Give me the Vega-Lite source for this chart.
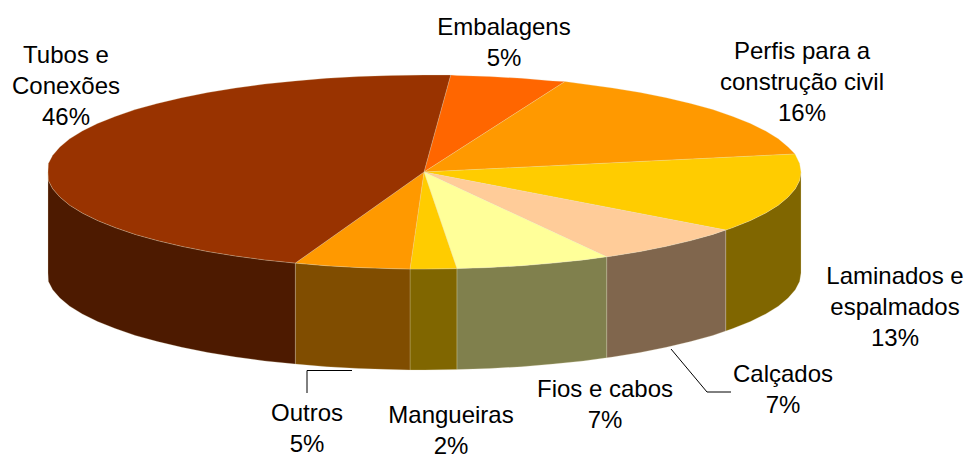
{"$schema":"https://vega.github.io/schema/vega-lite/v6.json","width":969,"height":454,"padding":0,"autosize":"none","background":"white","view":{"stroke":null},
"datasets":{
"faces":[
{"face":"Laminados lateral","n":1,"x":801,"y":172},{"face":"Laminados lateral","n":2,"x":799.6,"y":180.5},{"face":"Laminados lateral","n":3,"x":795.3,"y":188.8},{"face":"Laminados lateral","n":4,"x":788.1,"y":197.1},{"face":"Laminados lateral","n":5,"x":778.3,"y":205.2},{"face":"Laminados lateral","n":6,"x":765.7,"y":213},{"face":"Laminados lateral","n":7,"x":750.5,"y":220.5},{"face":"Laminados lateral","n":8,"x":732.8,"y":227.6},{"face":"Laminados lateral","n":9,"x":725.7,"y":230},{"face":"Laminados lateral","n":10,"x":725.7,"y":331},{"face":"Laminados lateral","n":11,"x":732.8,"y":328.6},{"face":"Laminados lateral","n":12,"x":750.5,"y":321.5},{"face":"Laminados lateral","n":13,"x":765.7,"y":314},{"face":"Laminados lateral","n":14,"x":778.3,"y":306.2},{"face":"Laminados lateral","n":15,"x":788.1,"y":298.1},{"face":"Laminados lateral","n":16,"x":795.3,"y":289.8},{"face":"Laminados lateral","n":17,"x":799.6,"y":281.5},{"face":"Laminados lateral","n":18,"x":801,"y":273},{"face":"Laminados lateral","n":19,"x":801,"y":172},
{"face":"Calçados lateral","n":1,"x":725.7,"y":230},{"face":"Calçados lateral","n":2,"x":712.8,"y":234.4},{"face":"Calçados lateral","n":3,"x":690.6,"y":240.6},{"face":"Calçados lateral","n":4,"x":666.3,"y":246.3},{"face":"Calçados lateral","n":5,"x":640.2,"y":251.5},{"face":"Calçados lateral","n":6,"x":612.5,"y":256},{"face":"Calçados lateral","n":7,"x":606.7,"y":256.8},{"face":"Calçados lateral","n":8,"x":606.7,"y":357.8},{"face":"Calçados lateral","n":9,"x":612.5,"y":357},{"face":"Calçados lateral","n":10,"x":640.2,"y":352.5},{"face":"Calçados lateral","n":11,"x":666.3,"y":347.3},{"face":"Calçados lateral","n":12,"x":690.6,"y":341.6},{"face":"Calçados lateral","n":13,"x":712.8,"y":335.4},{"face":"Calçados lateral","n":14,"x":725.7,"y":331},{"face":"Calçados lateral","n":15,"x":725.7,"y":230},
{"face":"Fios lateral","n":1,"x":606.7,"y":256.8},{"face":"Fios lateral","n":2,"x":583.3,"y":259.9},{"face":"Fios lateral","n":3,"x":552.9,"y":263.1},{"face":"Fios lateral","n":4,"x":521.6,"y":265.7},{"face":"Fios lateral","n":5,"x":489.4,"y":267.5},{"face":"Fios lateral","n":6,"x":456.9,"y":268.6},{"face":"Fios lateral","n":7,"x":456.9,"y":369.6},{"face":"Fios lateral","n":8,"x":489.4,"y":368.5},{"face":"Fios lateral","n":9,"x":521.6,"y":366.7},{"face":"Fios lateral","n":10,"x":552.9,"y":364.1},{"face":"Fios lateral","n":11,"x":583.3,"y":360.9},{"face":"Fios lateral","n":12,"x":606.7,"y":357.8},{"face":"Fios lateral","n":13,"x":606.7,"y":256.8},
{"face":"Mangueiras lateral","n":1,"x":456.9,"y":268.6},{"face":"Mangueiras lateral","n":2,"x":424,"y":269},{"face":"Mangueiras lateral","n":3,"x":410,"y":269},{"face":"Mangueiras lateral","n":4,"x":410,"y":370},{"face":"Mangueiras lateral","n":5,"x":424,"y":370},{"face":"Mangueiras lateral","n":6,"x":456.9,"y":369.6},{"face":"Mangueiras lateral","n":7,"x":456.9,"y":268.6},
{"face":"Outros lateral","n":1,"x":410,"y":269},{"face":"Outros lateral","n":2,"x":391.1,"y":268.6},{"face":"Outros lateral","n":3,"x":358.6,"y":267.5},{"face":"Outros lateral","n":4,"x":326.4,"y":265.7},{"face":"Outros lateral","n":5,"x":295.3,"y":263.1},{"face":"Outros lateral","n":6,"x":295.3,"y":364.1},{"face":"Outros lateral","n":7,"x":326.4,"y":366.7},{"face":"Outros lateral","n":8,"x":358.6,"y":368.5},{"face":"Outros lateral","n":9,"x":391.1,"y":369.6},{"face":"Outros lateral","n":10,"x":410,"y":370},{"face":"Outros lateral","n":11,"x":410,"y":269},
{"face":"Tubos lateral","n":1,"x":295.3,"y":263.1},{"face":"Tubos lateral","n":2,"x":264.7,"y":259.9},{"face":"Tubos lateral","n":3,"x":235.5,"y":256},{"face":"Tubos lateral","n":4,"x":207.8,"y":251.5},{"face":"Tubos lateral","n":5,"x":181.7,"y":246.3},{"face":"Tubos lateral","n":6,"x":157.4,"y":240.6},{"face":"Tubos lateral","n":7,"x":135.2,"y":234.4},{"face":"Tubos lateral","n":8,"x":115.2,"y":227.6},{"face":"Tubos lateral","n":9,"x":97.5,"y":220.5},{"face":"Tubos lateral","n":10,"x":82.3,"y":213},{"face":"Tubos lateral","n":11,"x":69.7,"y":205.2},{"face":"Tubos lateral","n":12,"x":59.9,"y":197.1},{"face":"Tubos lateral","n":13,"x":52.7,"y":188.8},{"face":"Tubos lateral","n":14,"x":48.4,"y":180.5},{"face":"Tubos lateral","n":15,"x":48,"y":172},{"face":"Tubos lateral","n":16,"x":48,"y":273},{"face":"Tubos lateral","n":17,"x":48.4,"y":281.5},{"face":"Tubos lateral","n":18,"x":52.7,"y":289.8},{"face":"Tubos lateral","n":19,"x":59.9,"y":298.1},{"face":"Tubos lateral","n":20,"x":69.7,"y":306.2},{"face":"Tubos lateral","n":21,"x":82.3,"y":314},{"face":"Tubos lateral","n":22,"x":97.5,"y":321.5},{"face":"Tubos lateral","n":23,"x":115.2,"y":328.6},{"face":"Tubos lateral","n":24,"x":135.2,"y":335.4},{"face":"Tubos lateral","n":25,"x":157.4,"y":341.6},{"face":"Tubos lateral","n":26,"x":181.7,"y":347.3},{"face":"Tubos lateral","n":27,"x":207.8,"y":352.5},{"face":"Tubos lateral","n":28,"x":235.5,"y":357},{"face":"Tubos lateral","n":29,"x":264.7,"y":360.9},{"face":"Tubos lateral","n":30,"x":295.3,"y":364.1},{"face":"Tubos lateral","n":31,"x":295.3,"y":263.1},
{"face":"Embalagens topo","n":1,"x":424,"y":172},{"face":"Embalagens topo","n":2,"x":450.7,"y":75},{"face":"Embalagens topo","n":3,"x":456.9,"y":75.4},{"face":"Embalagens topo","n":4,"x":489.4,"y":76.5},{"face":"Embalagens topo","n":5,"x":521.6,"y":78.3},{"face":"Embalagens topo","n":6,"x":552.9,"y":80.9},{"face":"Embalagens topo","n":7,"x":565,"y":81.5},{"face":"Embalagens topo","n":8,"x":424,"y":172},
{"face":"Perfis topo","n":1,"x":424,"y":172},{"face":"Perfis topo","n":2,"x":565,"y":81.5},{"face":"Perfis topo","n":3,"x":583.3,"y":84.1},{"face":"Perfis topo","n":4,"x":612.5,"y":88},{"face":"Perfis topo","n":5,"x":640.2,"y":92.5},{"face":"Perfis topo","n":6,"x":666.3,"y":97.7},{"face":"Perfis topo","n":7,"x":690.6,"y":103.4},{"face":"Perfis topo","n":8,"x":712.8,"y":109.6},{"face":"Perfis topo","n":9,"x":732.8,"y":116.4},{"face":"Perfis topo","n":10,"x":750.5,"y":123.5},{"face":"Perfis topo","n":11,"x":765.7,"y":131},{"face":"Perfis topo","n":12,"x":778.3,"y":138.8},{"face":"Perfis topo","n":13,"x":788.1,"y":146.9},{"face":"Perfis topo","n":14,"x":795,"y":154},{"face":"Perfis topo","n":15,"x":424,"y":172},
{"face":"Laminados topo","n":1,"x":424,"y":172},{"face":"Laminados topo","n":2,"x":795,"y":154},{"face":"Laminados topo","n":3,"x":799.6,"y":163.5},{"face":"Laminados topo","n":4,"x":801,"y":172},{"face":"Laminados topo","n":5,"x":799.6,"y":180.5},{"face":"Laminados topo","n":6,"x":795.3,"y":188.8},{"face":"Laminados topo","n":7,"x":788.1,"y":197.1},{"face":"Laminados topo","n":8,"x":778.3,"y":205.2},{"face":"Laminados topo","n":9,"x":765.7,"y":213},{"face":"Laminados topo","n":10,"x":750.5,"y":220.5},{"face":"Laminados topo","n":11,"x":732.8,"y":227.6},{"face":"Laminados topo","n":12,"x":725.7,"y":230},{"face":"Laminados topo","n":13,"x":424,"y":172},
{"face":"Calçados topo","n":1,"x":424,"y":172},{"face":"Calçados topo","n":2,"x":725.7,"y":230},{"face":"Calçados topo","n":3,"x":712.8,"y":234.4},{"face":"Calçados topo","n":4,"x":690.6,"y":240.6},{"face":"Calçados topo","n":5,"x":666.3,"y":246.3},{"face":"Calçados topo","n":6,"x":640.2,"y":251.5},{"face":"Calçados topo","n":7,"x":612.5,"y":256},{"face":"Calçados topo","n":8,"x":606.7,"y":256.8},{"face":"Calçados topo","n":9,"x":424,"y":172},
{"face":"Fios topo","n":1,"x":424,"y":172},{"face":"Fios topo","n":2,"x":606.7,"y":256.8},{"face":"Fios topo","n":3,"x":583.3,"y":259.9},{"face":"Fios topo","n":4,"x":552.9,"y":263.1},{"face":"Fios topo","n":5,"x":521.6,"y":265.7},{"face":"Fios topo","n":6,"x":489.4,"y":267.5},{"face":"Fios topo","n":7,"x":456.9,"y":268.6},{"face":"Fios topo","n":8,"x":424,"y":172},
{"face":"Mangueiras topo","n":1,"x":424,"y":172},{"face":"Mangueiras topo","n":2,"x":456.9,"y":268.6},{"face":"Mangueiras topo","n":3,"x":424,"y":269},{"face":"Mangueiras topo","n":4,"x":410,"y":269},{"face":"Mangueiras topo","n":5,"x":424,"y":172},
{"face":"Outros topo","n":1,"x":424,"y":172},{"face":"Outros topo","n":2,"x":410,"y":269},{"face":"Outros topo","n":3,"x":391.1,"y":268.6},{"face":"Outros topo","n":4,"x":358.6,"y":267.5},{"face":"Outros topo","n":5,"x":326.4,"y":265.7},{"face":"Outros topo","n":6,"x":295.3,"y":263.1},{"face":"Outros topo","n":7,"x":424,"y":172},
{"face":"Tubos topo","n":1,"x":424,"y":172},{"face":"Tubos topo","n":2,"x":295.3,"y":263.1},{"face":"Tubos topo","n":3,"x":264.7,"y":259.9},{"face":"Tubos topo","n":4,"x":235.5,"y":256},{"face":"Tubos topo","n":5,"x":207.8,"y":251.5},{"face":"Tubos topo","n":6,"x":181.7,"y":246.3},{"face":"Tubos topo","n":7,"x":157.4,"y":240.6},{"face":"Tubos topo","n":8,"x":135.2,"y":234.4},{"face":"Tubos topo","n":9,"x":115.2,"y":227.6},{"face":"Tubos topo","n":10,"x":97.5,"y":220.5},{"face":"Tubos topo","n":11,"x":82.3,"y":213},{"face":"Tubos topo","n":12,"x":69.7,"y":205.2},{"face":"Tubos topo","n":13,"x":59.9,"y":197.1},{"face":"Tubos topo","n":14,"x":52.7,"y":188.8},{"face":"Tubos topo","n":15,"x":48.4,"y":180.5},{"face":"Tubos topo","n":16,"x":48,"y":172},{"face":"Tubos topo","n":17,"x":48.4,"y":163.5},{"face":"Tubos topo","n":18,"x":52.7,"y":155.2},{"face":"Tubos topo","n":19,"x":59.9,"y":146.9},{"face":"Tubos topo","n":20,"x":69.7,"y":138.8},{"face":"Tubos topo","n":21,"x":82.3,"y":131},{"face":"Tubos topo","n":22,"x":97.5,"y":123.5},{"face":"Tubos topo","n":23,"x":115.2,"y":116.4},{"face":"Tubos topo","n":24,"x":135.2,"y":109.6},{"face":"Tubos topo","n":25,"x":157.4,"y":103.4},{"face":"Tubos topo","n":26,"x":181.7,"y":97.7},{"face":"Tubos topo","n":27,"x":207.8,"y":92.5},{"face":"Tubos topo","n":28,"x":235.5,"y":88},{"face":"Tubos topo","n":29,"x":264.7,"y":84.1},{"face":"Tubos topo","n":30,"x":295.1,"y":80.9},{"face":"Tubos topo","n":31,"x":326.4,"y":78.3},{"face":"Tubos topo","n":32,"x":358.6,"y":76.5},{"face":"Tubos topo","n":33,"x":391.1,"y":75.4},{"face":"Tubos topo","n":34,"x":424,"y":75},{"face":"Tubos topo","n":35,"x":450.7,"y":75},{"face":"Tubos topo","n":36,"x":424,"y":172}
],
"leaders":[
{"leader":"Calçados","n":1,"x":671,"y":349},{"leader":"Calçados","n":2,"x":707,"y":392},{"leader":"Calçados","n":3,"x":731,"y":392},
{"leader":"Outros","n":1,"x":307,"y":393},{"leader":"Outros","n":2,"x":307,"y":370.5},{"leader":"Outros","n":3,"x":352,"y":370.5}
],
"labels":[
{"slice":"Tubos e\nConexões\n46%","x":66,"y":56},
{"slice":"Embalagens\n5%","x":504,"y":28},
{"slice":"Perfis para a\nconstrução civil\n16%","x":802,"y":52},
{"slice":"Laminados e\nespalmados\n13%","x":895,"y":277},
{"slice":"Calçados\n7%","x":783,"y":375},
{"slice":"Fios e cabos\n7%","x":605,"y":390},
{"slice":"Mangueiras\n2%","x":451,"y":416},
{"slice":"Outros\n5%","x":307,"y":414}
]},
"data":{"name":"faces"},
"layer":[
{"mark":{"type":"line","filled":true,"stroke":"#e8e0c0","strokeWidth":0.5,"strokeOpacity":0.5,"interpolate":"linear"},
"encoding":{
"x":{"field":"x","type":"quantitative","scale":{"domain":[0,969],"nice":false,"zero":false},"axis":null},
"y":{"field":"y","type":"quantitative","scale":{"domain":[0,454],"reverse":true,"nice":false,"zero":false},"axis":null},
"order":{"field":"n","type":"quantitative"},
"detail":{"field":"face"},
"fill":{"field":"face","type":"nominal","legend":null,"scale":{
"domain":["Laminados lateral","Calçados lateral","Fios lateral","Mangueiras lateral","Outros lateral","Tubos lateral","Embalagens topo","Perfis topo","Laminados topo","Calçados topo","Fios topo","Mangueiras topo","Outros topo","Tubos topo"],
"range":["#806600","#80664d","#80804d","#806600","#804d00","#4d1a00","#ff6600","#ff9900","#ffcc00","#ffcc99","#ffff99","#ffcc00","#ff9900","#993300"]}}}},
{"data":{"name":"leaders"},"mark":{"type":"line","color":"#000000","strokeWidth":1},
"encoding":{"x":{"field":"x","type":"quantitative"},"y":{"field":"y","type":"quantitative"},"order":{"field":"n","type":"quantitative"},"detail":{"field":"leader"}}},
{"data":{"name":"labels"},"mark":{"type":"text","font":"Liberation Sans","fontSize":24,"lineHeight":31,"lineBreak":"\n","align":"center","baseline":"middle","color":"#000000"},
"encoding":{"x":{"field":"x","type":"quantitative"},"y":{"field":"y","type":"quantitative"},"text":{"field":"slice"}}}
]}
